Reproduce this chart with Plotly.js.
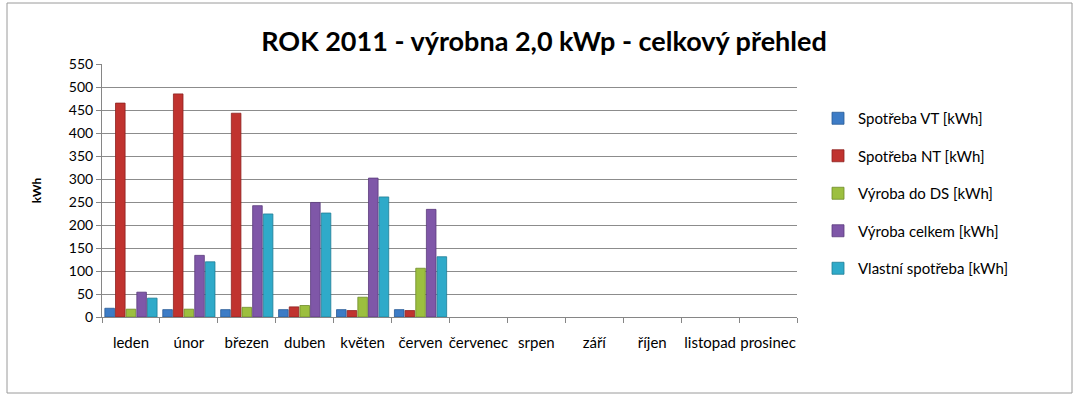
<!DOCTYPE html>
<html>
<head>
<meta charset="utf-8">
<script src="https://cdn.plot.ly/plotly-3.0.1.min.js"></script>
<style>
html,body{margin:0;padding:0;background:#fff;}
#chart{width:1079px;height:399px;}
</style>
</head>
<body>
<div id="chart"></div>
<script>
const months = ["leden","únor","březen","duben","květen","červen","červenec","srpen","září","říjen","listopad","prosinec"];
const seriesNames = ["Spotřeba VT [kWh]","Spotřeba NT [kWh]","Výroba do DS [kWh]","Výroba celkem [kWh]","Vlastní spotřeba [kWh]"];
const spotrebaVT   = [19, 16, 16, 16, 16, 16, null, null, null, null, null, null];
const spotrebaNT   = [465, 485, 443, 22, 14, 14, null, null, null, null, null, null];
const vyrobaDS     = [17, 17, 21, 25, 43, 106, null, null, null, null, null, null];
const vyrobaCelkem = [54, 134, 242, 249, 302, 234, null, null, null, null, null, null];
const vlastniSpotreba = [41, 120, 224, 226, 261, 131, null, null, null, null, null, null];
const yTicks = [0,50,100,150,200,250,300,350,400,450,500,550];

const colors = ["#3D7CC6","#C0332F","#9CBF3F","#7F57A8","#2FAAC9"];
const lines  = ["#2A5A95","#8E2220","#6F8C2A","#5A3B7C","#1F7D96"];
const values = [spotrebaVT, spotrebaNT, vyrobaDS, vyrobaCelkem, vlastniSpotreba];

const font = "Lato, 'Open Sans', sans-serif";
const traces = values.map((v,i)=>({
  type:"bar", name:seriesNames[i], x:months, y:v,
  legendgroup:"g"+i,
  marker:{color:colors[i], line:{color:lines[i], width:0.8}},
  hoverinfo:"x+y+name"
}));

const L=102, R=797, T=64, B=317;
const pw=R-L, ph=B-T;
const layout = {
  width:1079, height:399,
  margin:{l:L, r:1079-R, t:T, b:399-B, pad:0},
  paper_bgcolor:"#ffffff", plot_bgcolor:"#ffffff",
  font:{family:font, size:14, color:"#000"},
  title:{text:"ROK 2011 - výrobna 2,0 kWp - celkový přehled", font:{family:font, size:27, color:"#000", weight:"bold"},
         xref:"container", x:544/1079, xanchor:"center", yref:"container", y:1-42/399, yanchor:"middle"},
  barmode:"group", bargap:0.08, bargroupgap:0.1,
  showlegend:true,
  legend:{x:(818-L)/pw, xanchor:"left", y:(B-102)/ph, yanchor:"top", tracegroupgap:15,
          font:{family:font, size:15, color:"#000"}, bgcolor:"rgba(0,0,0,0)", itemwidth:30},
  xaxis:{type:"category", showgrid:false, showline:true, linecolor:"#868686", linewidth:1,
         ticks:"outside", tickson:"boundaries", ticklen:5, tickcolor:"#868686", tickangle:0,
         tickfont:{family:font, size:15, color:"#000"}, ticklabelstandoff:12, automargin:false},
  yaxis:{range:[0,550], tickvals:yTicks, showgrid:true, gridcolor:"#8c8c8c", gridwidth:1,
         showline:true, linecolor:"#868686", linewidth:1, ticks:"outside", ticklen:5, tickcolor:"#868686",
         tickfont:{family:font, size:14, color:"#000"}, zeroline:false, automargin:false,
         title:{text:"<b>kWh</b>", font:{family:font, size:12, color:"#000"}, standoff:24}},
  shapes:[{type:"rect", xref:"paper", yref:"paper",
           x0:(7-L)/pw, x1:(1072-L)/pw, y0:(B-393)/ph, y1:(B-3)/ph,
           line:{color:"#9a9a9a", width:1}, fillcolor:"rgba(0,0,0,0)", layer:"below"}]
};
Plotly.newPlot("chart", traces, layout, {displayModeBar:false, staticPlot:true});
</script>
</body>
</html>
